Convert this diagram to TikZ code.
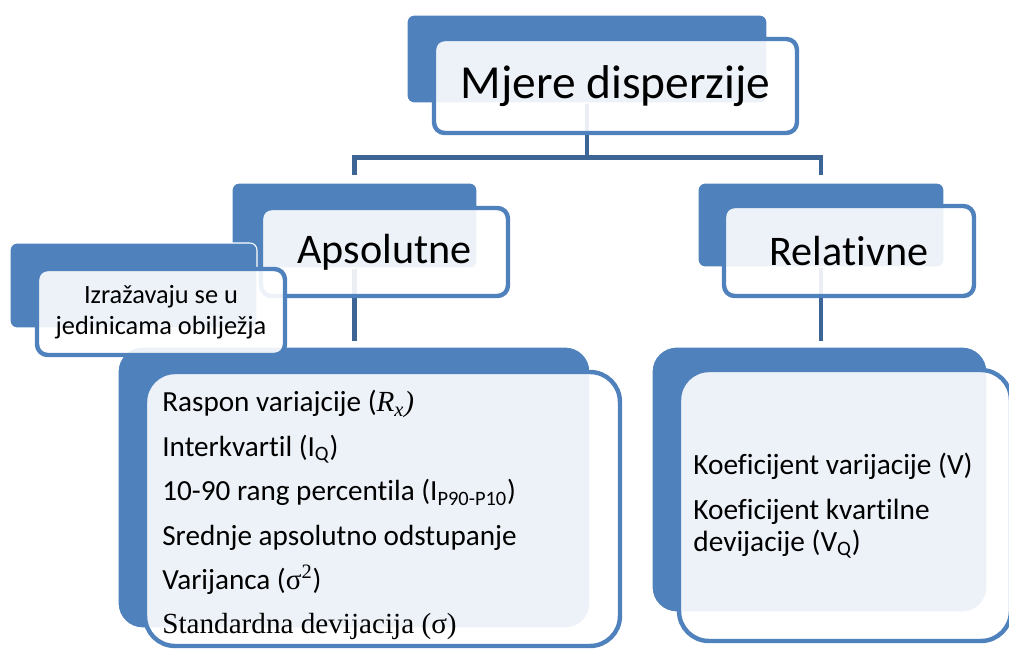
\documentclass[tikz,border=0pt]{standalone}
\usepackage{fontspec}
\setmainfont{Carlito}[Ligatures={NoCommon}]
\newfontfamily\seriffont{Liberation Serif}
\definecolor{boxblue}{HTML}{4F81BD}
\definecolor{linkblue}{HTML}{3C6494}

\begin{document}
\begin{tikzpicture}[x=0.02cm, y=-0.02cm,
    backbox/.style={fill=boxblue, draw=white, line width=0.6pt, rounded corners=4pt, inner sep=0pt},
    frontbox/.style={draw=boxblue, line width=2.5pt, fill=white, fill opacity=0.9, text opacity=1,
        rounded corners=6pt, inner sep=0pt, align=center},
    link/.style={draw=linkblue, line width=2.5pt},
    listtext/.style={anchor=north west, inner sep=0pt, align=left}]
    \useasboundingbox (0,0) rectangle (1009,652);
    % back boxes that the connectors start from
    \node[backbox, minimum width=7.2cm, minimum height=1.76cm] (mjereback) at (587,59) {};
    \node[backbox, minimum width=4.9cm, minimum height=1.7cm] (absback) at (354.5,225.5) {};
    \node[backbox, minimum width=4.92cm, minimum height=1.68cm] (relback) at (821,225) {};
    \node[backbox, minimum width=9.44cm, minimum height=5.62cm, rounded corners=14pt] (abslistback) at (354,487.5) {};
    \node[backbox, minimum width=6.7cm, minimum height=5.3cm, rounded corners=14pt] (rellistback) at (819.5,479.5) {};
    % connectors
    \draw[link] (mjereback.south) -- ++(0,54) coordinate (split);
    \draw[link, shorten >=4pt] (split) -| (absback.north);
    \draw[link, shorten >=4pt] (split) -| (relback.north);
    \draw[link, shorten >=3pt] (absback.south) -- (absback.south |- abslistback.north);
    \draw[link, shorten >=3pt] (relback.south) -- (relback.south |- rellistback.north);
    % front boxes
    \node[frontbox, minimum width=7.26cm, minimum height=1.88cm, font=\fontsize{27}{30}\selectfont] (mjere) at (615.5,86) {Mjere disperzije};
    \node[frontbox, minimum width=4.94cm, minimum height=1.76cm, font=\fontsize{24}{28}\selectfont] (abs) at (384.5,252) {Apsolutne};
    \node[frontbox, minimum width=5cm, minimum height=1.8cm, font=\fontsize{24}{28}\selectfont] (rel) at (849,251) {Relativne};
    \node[frontbox, minimum width=9.5cm, minimum height=5.48cm, rounded corners=17pt] (abslist) at (382.5,509) {};
    \node[frontbox, minimum width=6.64cm, minimum height=5.42cm, rounded corners=17pt] (rellist) at (845,505.5) {};
    % side note
    \node[backbox, minimum width=4.94cm, minimum height=1.7cm] (unitback) at (133.5,285.5) {};
    \node[frontbox, minimum width=4.96cm, minimum height=1.72cm, font=\fontsize{15}{17.6}\selectfont] (unit) at (161,312) {Izražavaju se u\\jedinicama obilježja};
    % list texts
    \node[listtext, font=\fontsize{16.6}{25.3}\selectfont] (abstext) at (162,390)
        {Raspon variajcije ({\seriffont\itshape R\textsubscript{x})}\\
         Interkvartil (I\textsubscript{Q})\\
         10-90 rang percentila (I\textsubscript{P90-P10})\\
         Srednje apsolutno odstupanje\\
         Varijanca ({\seriffont σ\textsuperscript{2}})\\
         {\seriffont Standardna devijacija (σ)}};
    \node[listtext, font=\fontsize{16.7}{18.1}\selectfont] (reltext) at (693,453)
        {Koeficijent varijacije (V)\\[7.2pt]
         Koeficijent kvartilne\\
         devijacije (V\textsubscript{Q})};
\end{tikzpicture}
\end{document}
